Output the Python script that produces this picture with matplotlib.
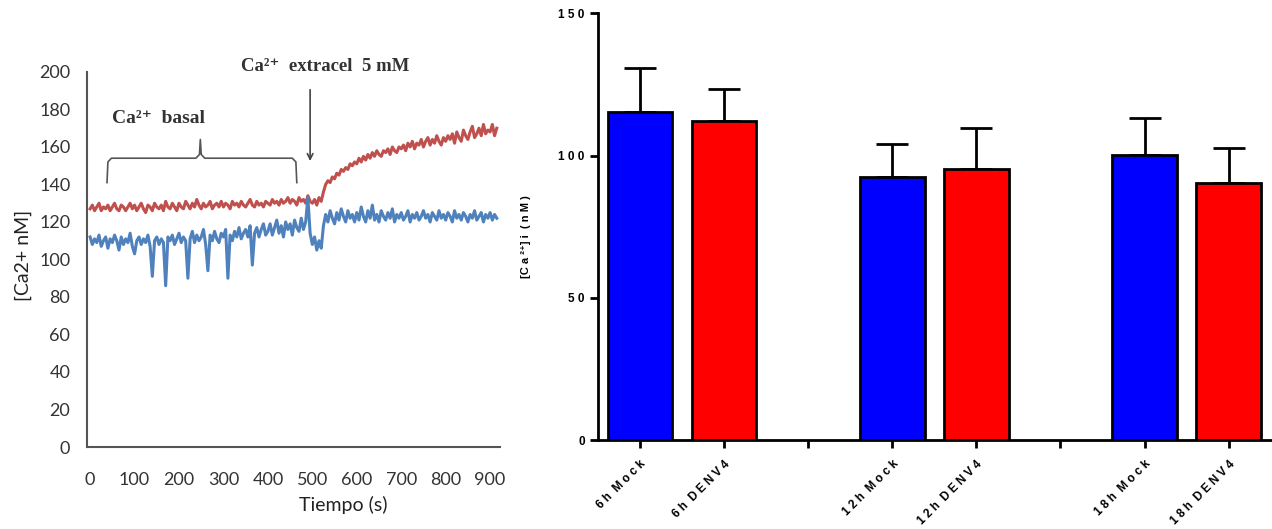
import numpy as np
import matplotlib
matplotlib.use("Agg")
import matplotlib.pyplot as plt

# left panel: calcium trace, one sample every 5 s
t_step = 5
red_trace = [
    127, 129, 126, 128, 130, 126, 128, 127, 129, 126, 128, 130, 127, 126, 129, 128, 126, 128, 130, 127,
    129, 126, 128, 130, 127, 125, 129, 128, 126, 130, 128, 127, 129, 126, 131, 128, 127, 130, 128, 126,
    130, 128, 127, 131, 129, 127, 130, 128, 132, 129, 127, 130, 128, 129, 131, 127, 129, 130, 128, 131,
    128, 130, 129, 127, 131, 129, 130, 128, 131, 129, 128, 130, 132, 129, 128, 131, 129, 130, 128, 131,
    130, 129, 132, 130, 131, 129, 132, 130, 131, 133, 130, 132, 131, 129, 133, 131, 132, 130, 134, 131,
    130, 132, 129, 133, 131, 136, 140, 142, 141, 144, 143, 146, 145, 148, 147, 149, 148, 151, 150, 152,
    151, 154, 152, 155, 153, 156, 154, 157, 155, 158, 156, 155, 158, 157, 159, 156, 160, 158, 157, 160,
    159, 161, 158, 162, 160, 163, 159, 162, 161, 164, 160, 163, 165, 161, 164, 162, 166, 163, 161, 165,
    163, 166, 164, 167, 162, 168, 165, 163, 169, 166, 164, 168, 171, 165, 167, 170, 166, 172, 167, 169,
    168, 172, 166, 170,
]
blue_trace = [
    112, 108, 111, 109, 113, 107, 110, 112, 106, 111, 109, 113, 110, 105, 112, 108, 111, 109, 114, 107,
    103, 110, 112, 108, 111, 109, 113, 107, 91, 110, 112, 108, 111, 109, 86, 112, 110, 113, 108, 111,
    114, 109, 112, 110, 90, 111, 115, 109, 113, 110, 112, 116, 108, 94, 113, 110, 115, 111, 109, 114,
    112, 116, 90, 113, 110, 115, 112, 117, 111, 114, 116, 112, 118, 97, 114, 117, 112, 116, 119, 113,
    115, 119, 113, 117, 121, 114, 118, 112, 120, 116, 119, 113, 121, 117, 115, 122, 116, 120, 133, 114,
    108, 112, 105, 110, 106, 118, 124, 120, 126, 122, 119, 125, 121, 127, 123, 120, 126, 122, 124, 120,
    125, 121, 128, 123, 120, 126, 122, 129, 121, 124, 120, 126, 123, 121, 125, 122, 127, 120, 124, 122,
    125, 121, 123, 126, 120, 124, 122, 125, 121, 123, 126, 122, 124, 120, 125, 123, 121, 126, 122, 124,
    121, 125, 123, 120, 126, 122, 124, 121, 125, 123, 120, 124, 122, 126, 121, 123, 125, 120, 124, 122,
    125, 121, 124, 122,
]
time_s = np.arange(len(red_trace)) * t_step

# right panel: bar chart
bar_labels = ["6 h  M o c k", "6 h  D E N V 4", "", "1 2 h  M o c k",
              "1 2 h  D E N V 4", "", "1 8 h  M o c k", "1 8 h  D E N V 4"]
bar_pos = [0, 1, 3, 4, 6, 7]
bar_means = [115.4, 112.2, 92.5, 95.3, 100.2, 90.4]
bar_tops = [130.8, 123.4, 104.1, 109.7, 113.2, 102.7]
bar_colors = ["#0000FF", "#FF0000", "#0000FF", "#FF0000", "#0000FF", "#FF0000"]

fig = plt.figure(figsize=(12.72, 5.29), dpi=100)

# ---- left ----
ax1 = fig.add_axes([0.0684, 0.155, 0.3246, 0.709])
ax1.plot(time_s, red_trace, color="#C0504D", lw=2.2)
ax1.plot(time_s, blue_trace, color="#4F81BD", lw=2.2)
ax1.set_xlim(-7, 922)
ax1.set_ylim(0, 200)
ax1.set_xticks(range(0, 1000, 100))
ax1.set_yticks(range(0, 220, 20))
for s in ["top", "right"]:
    ax1.spines[s].set_visible(False)
for s in ["left", "bottom"]:
    ax1.spines[s].set_color("#555555")
    ax1.spines[s].set_linewidth(1.5)
ax1.tick_params(axis="x", length=0, pad=18, labelsize=13, labelcolor="#333333")
ax1.tick_params(axis="y", length=0, pad=12, labelsize=13, labelcolor="#333333")
for lab in ax1.get_xticklabels() + ax1.get_yticklabels():
    lab.set_family("Lato")
ax1.set_xlabel("Tiempo (s)", family="Lato", fontsize=14, color="#222222")
ax1.xaxis.set_label_coords(0.62, -0.13)
ax1.set_ylabel("[Ca2+ nM]", family="Lato", fontsize=14, color="#222222")
ax1.yaxis.set_label_coords(-0.133, 0.512)

serif = ["Liberation Serif", "DejaVu Serif"]
ax1.text(49, 175, "Ca²⁺  basal", family=serif, fontweight="bold", fontsize=14,
         color="#333333", va="center")
ax1.text(340, 203, "Ca²⁺  extracel  5 mM", family=serif, fontweight="bold", fontsize=13.5,
         color="#333333", va="center", clip_on=False)
bx = [38, 40, 48, 238, 246, 248, 250, 258, 455, 463, 465]
by = [141, 152, 154, 154, 156, 164, 156, 154, 154, 152, 141]
ax1.plot(bx, by, color="#555555", lw=1.2)
ax1.annotate("", xy=(495, 151), xytext=(495, 192),
             arrowprops=dict(arrowstyle="->", color="#444444", lw=1.2))

# ---- right ----
ax2 = fig.add_axes([0.470, 0.168, 0.529, 0.8065])
err = [top - m for top, m in zip(bar_tops, bar_means)]
ax2.bar(bar_pos, bar_means, width=0.77, color=bar_colors, edgecolor="black", linewidth=2, zorder=2)
ax2.errorbar(bar_pos, bar_means, yerr=[[0] * len(err), err], fmt="none", ecolor="black",
             elinewidth=2, capsize=11.5, capthick=2, zorder=1)
ax2.set_xlim(-0.5, 7.5)
ax2.set_ylim(0, 150)
ax2.set_yticks([0, 50, 100, 150])
ax2.set_yticklabels(["0", "5 0", "1 0 0", "1 5 0"])
ax2.set_xticks(range(8))
ax2.set_xticklabels(bar_labels, rotation=45, ha="right", va="top", rotation_mode="anchor")
for s in ["top", "right"]:
    ax2.spines[s].set_visible(False)
for s in ["left", "bottom"]:
    ax2.spines[s].set_linewidth(2)
ax2.tick_params(axis="both", width=2, length=6, labelsize=8.5)
ax2.tick_params(axis="x", pad=7)
for lab in ax2.get_xticklabels() + ax2.get_yticklabels():
    lab.set_family("Liberation Sans")
    lab.set_fontweight("bold")
ax2.set_ylabel("[C a ²⁺] i  ( n M )", family=["Liberation Sans", "DejaVu Sans"],
               fontweight="bold", fontsize=8)
ax2.yaxis.set_label_coords(-0.1, 0.478)

fig.savefig("out.png", dpi=100)
